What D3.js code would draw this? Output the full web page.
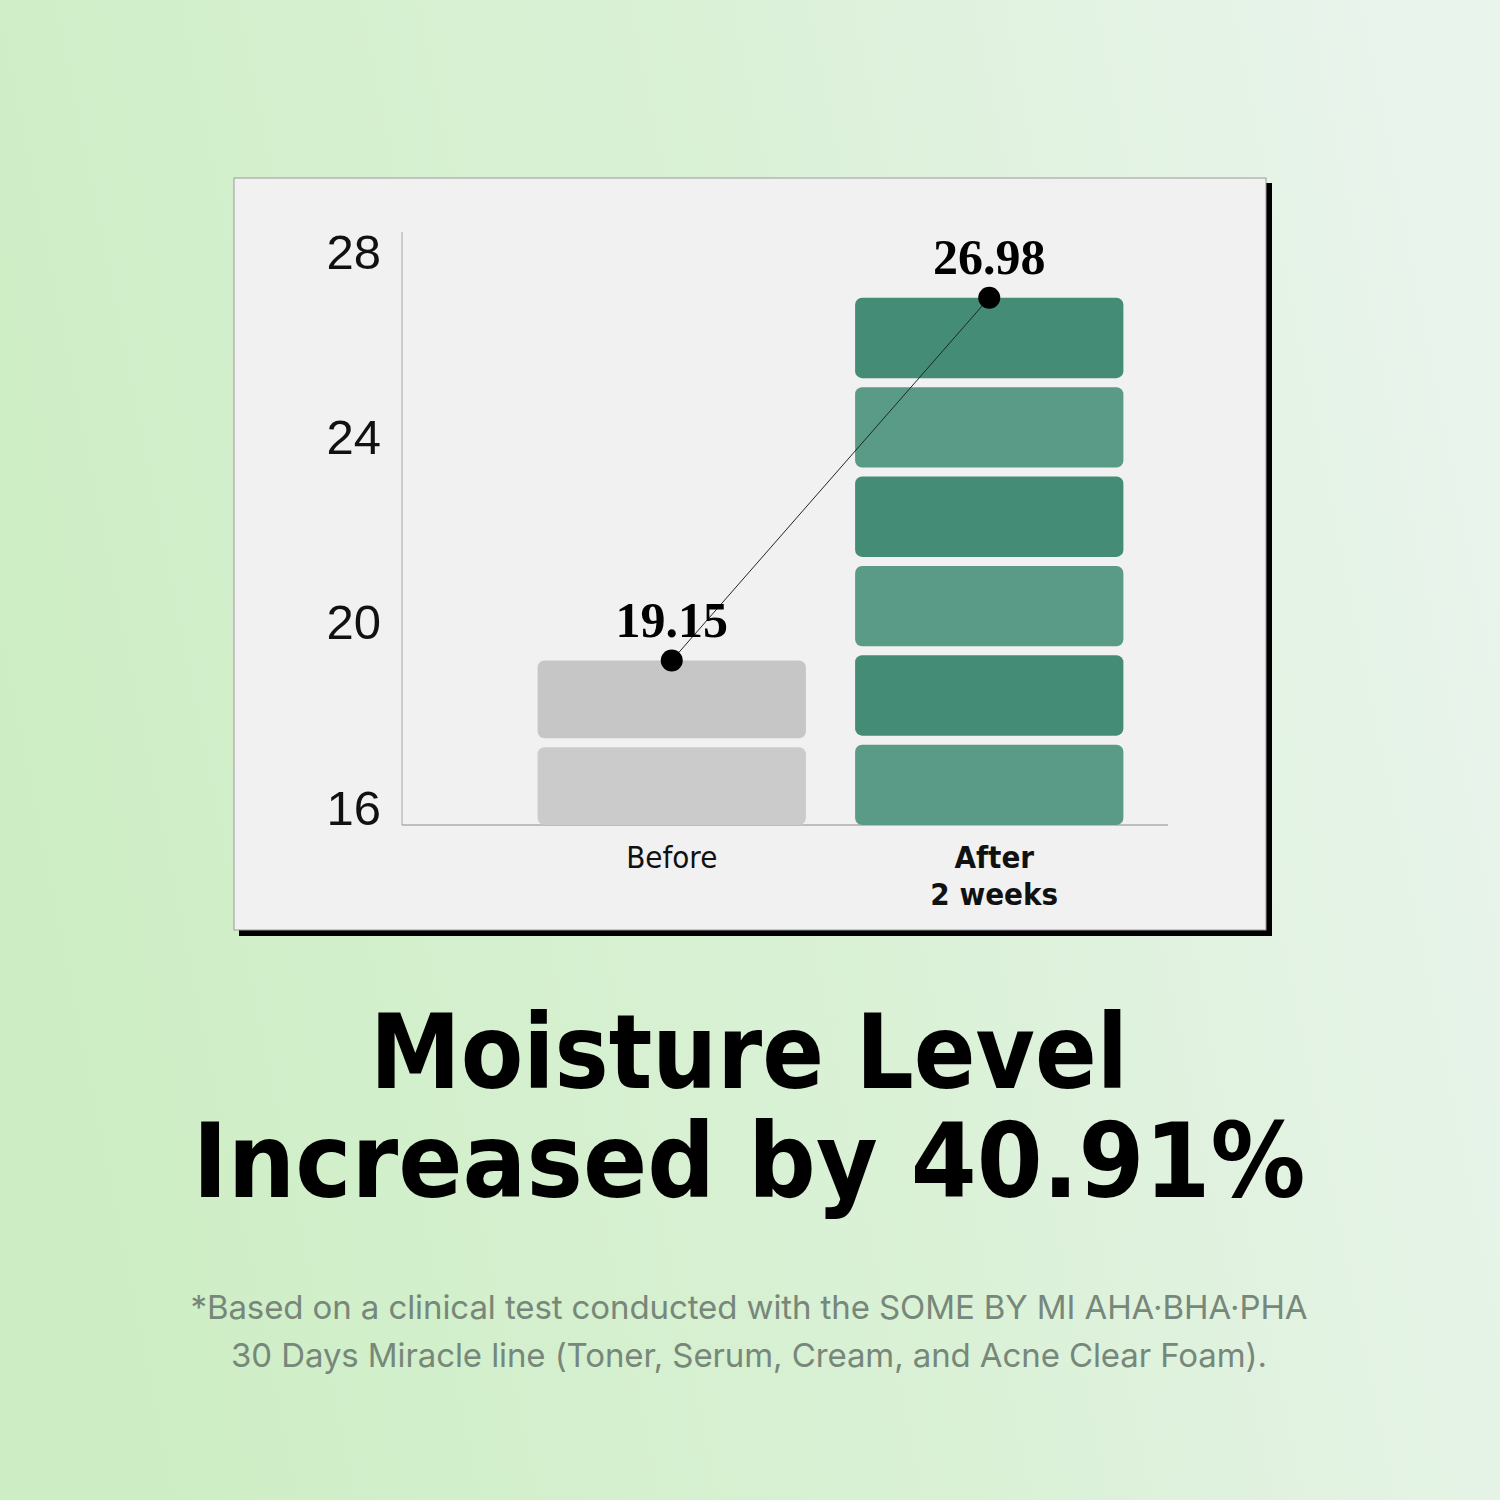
<!DOCTYPE html>
<html>
<head>
<meta charset="utf-8">
<script src="https://cdn.jsdelivr.net/npm/d3@7"></script>
<style>
  html, body { margin: 0; padding: 0; }
  body { width: 1500px; height: 1500px; overflow: hidden; }
</style>
</head>
<body>
<div id="chart"></div>
<script>
// data
const categories = ["Before", "After"];
const categoryLines = [["Before"], ["After", "2 weeks"]];
const values = [19.15, 26.98];
const segmentCounts = [2, 6];
const yTicks = [16, 20, 24, 28];
const titleLines = ["Moisture Level", "Increased by 40.91%"];
const noteLines = [
  "*Based on a clinical test conducted with the SOME BY MI AHA\u00b7BHA\u00b7PHA",
  "30 Days Miracle line (Toner, Serum, Cream, and Acne Clear Foam)."
];

const W = 1500, H = 1500;
// panel box
const panel = {x: 234, y: 178, w: 1032, h: 752};
let margin = {top: 232, right: 332, bottom: 675, left: 402};

const svg = d3.select('#chart').append('svg')
    .attr('width', W)
    .attr('height', H);

const defs = svg.append('defs');
const bg = defs.append('linearGradient')
    .attr('id', 'bg')
    .attr('x1', '0%').attr('y1', '60%')
    .attr('x2', '100%').attr('y2', '40%');
bg.append('stop').attr('offset', '0%').attr('stop-color', '#cdeec4');
bg.append('stop').attr('offset', '55%').attr('stop-color', '#daf1d6');
bg.append('stop').attr('offset', '100%').attr('stop-color', '#e9f4ec');

svg.append('rect')
    .attr('width', W).attr('height', H)
    .attr('fill', 'url(#bg)');

// black offset shadow, then the light card on top
svg.append('rect')
    .attr('x', panel.x + 5).attr('y', panel.y + 5)
    .attr('width', panel.w + 1).attr('height', panel.h + 1)
    .attr('fill', '#000');
svg.append('rect')
    .attr('x', panel.x).attr('y', panel.y)
    .attr('width', panel.w).attr('height', panel.h)
    .attr('fill', '#f1f1f1')
    .attr('stroke', '#9a9a9a')
    .attr('stroke-width', 1);

const x0 = margin.left, x1 = W - margin.right;
const yBase = H - margin.bottom, yTop = margin.top;

const x = d3.scaleBand()
    .domain(categories)
    .range([513, 1148])
    .paddingInner(0.155)
    .paddingOuter(0.0775);

const y = d3.scaleLinear()
    .domain([15.6, 28.4])
    .range([yBase, yTop]);

// axes
const g = svg.append('g');
g.append('line')
    .attr('x1', x0).attr('x2', x0)
    .attr('y1', yTop).attr('y2', yBase)
    .attr('stroke', '#b4b4b4').attr('stroke-width', 1.2);
g.append('line')
    .attr('x1', x0).attr('x2', x1)
    .attr('y1', yBase).attr('y2', yBase)
    .attr('stroke', '#8c8c8c').attr('stroke-width', 1.2);

g.append('g')
    .attr('transform', `translate(${x0 - 21},0)`)
    .call(d3.axisLeft(y).tickValues(yTicks).tickSize(0).tickPadding(0))
    .call(a => a.select('.domain').remove())
    .call(a => a.selectAll('.tick text')
      .attr('dy', '0.36em')
      .attr('fill', '#111')
      .attr('font-family', '"Liberation Sans", Arial, sans-serif')
      .attr('font-size', 49));

// segmented bars
const segGap = 9;
const greens = ['#5a9b87', '#448c76'];
const greys = ['#cbcbcb', '#c6c6c6'];

const bars = g.append('g')
  .selectAll('g')
  .data(values)
  .join('g')
    .attr('transform', (d, i) => `translate(${x(categories[i])},0)`);

bars.each(function (v, i) {
  const n = segmentCounts[i];
  const top = y(v);
  const pitch = (yBase - top + segGap) / n;
  d3.select(this).selectAll('rect')
    .data(d3.range(n))
    .join('rect')
      .attr('x', 0)
      .attr('y', k => top + (n - 1 - k) * pitch)
      .attr('width', x.bandwidth())
      .attr('height', pitch - segGap)
      .attr('rx', 7)
      .attr('fill', k => i === 0 ? greys[k % 2] : greens[k % 2]);
});

// connector line + dots
const cx = (d, i) => x(categories[i]) + x.bandwidth() / 2;
g.append('path')
    .datum(values)
    .attr('d', d3.line().x(cx).y(d => y(d)))
    .attr('fill', 'none')
    .attr('stroke', '#1a2a22')
    .attr('stroke-width', 1);

g.selectAll('circle')
  .data(values)
  .join('circle')
    .attr('cx', cx)
    .attr('cy', d => y(d))
    .attr('r', 11)
    .attr('fill', '#000');

g.selectAll('text.value')
  .data(values)
  .join('text')
    .attr('class', 'value')
    .attr('x', cx)
    .attr('y', d => y(d) - 24)
    .attr('text-anchor', 'middle')
    .attr('font-family', '"Liberation Serif", "DejaVu Serif", serif')
    .attr('font-weight', 'bold')
    .attr('font-size', 50)
    .attr('fill', '#000')
    .text(d => d.toFixed(2));

// category labels
const catLabel = g.selectAll('text.cat')
  .data(categoryLines)
  .join('text')
    .attr('class', 'cat')
    .attr('text-anchor', 'middle')
    .attr('font-family', '"DejaVu Sans Condensed", "DejaVu Sans", sans-serif')
    .attr('font-stretch', 'condensed')
    .attr('font-size', 31)
    .attr('font-weight', (d, i) => i === 0 ? 'normal' : 'bold')
    .attr('fill', '#111');
catLabel.selectAll('tspan')
  .data((d, i) => d.map(t => ({t, i})))
  .join('tspan')
    .attr('x', d => cx(null, d.i) + (d.i === 0 ? 0 : 5))
    .attr('y', (d, j) => 868 + j * 37)
    .text(d => d.t);

// headline, fitted to the widths seen in the picture
const titleWidths = [758, 1113];
svg.append('g').selectAll('text')
  .data(titleLines)
  .join('text')
    .attr('x', 749)
    .attr('y', (d, i) => 1088 + i * 109)
    .attr('text-anchor', 'middle')
    .attr('font-family', '"DejaVu Sans", Lato, sans-serif')
    .attr('font-weight', 'bold')
    .attr('font-size', 104)
    .attr('textLength', (d, i) => titleWidths[i])
    .attr('lengthAdjust', 'spacingAndGlyphs')
    .attr('fill', '#000')
    .text(d => d);

// footnote
svg.append('g').selectAll('text')
  .data(noteLines)
  .join('text')
    .attr('x', 749)
    .attr('y', (d, i) => 1319 + i * 48)
    .attr('text-anchor', 'middle')
    .attr('font-family', 'Inter, Roboto, sans-serif')
    .attr('font-size', 33)
    .attr('letter-spacing', -0.1)
    .attr('fill', '#77877a')
    .text(d => d);
</script>
</body>
</html>
